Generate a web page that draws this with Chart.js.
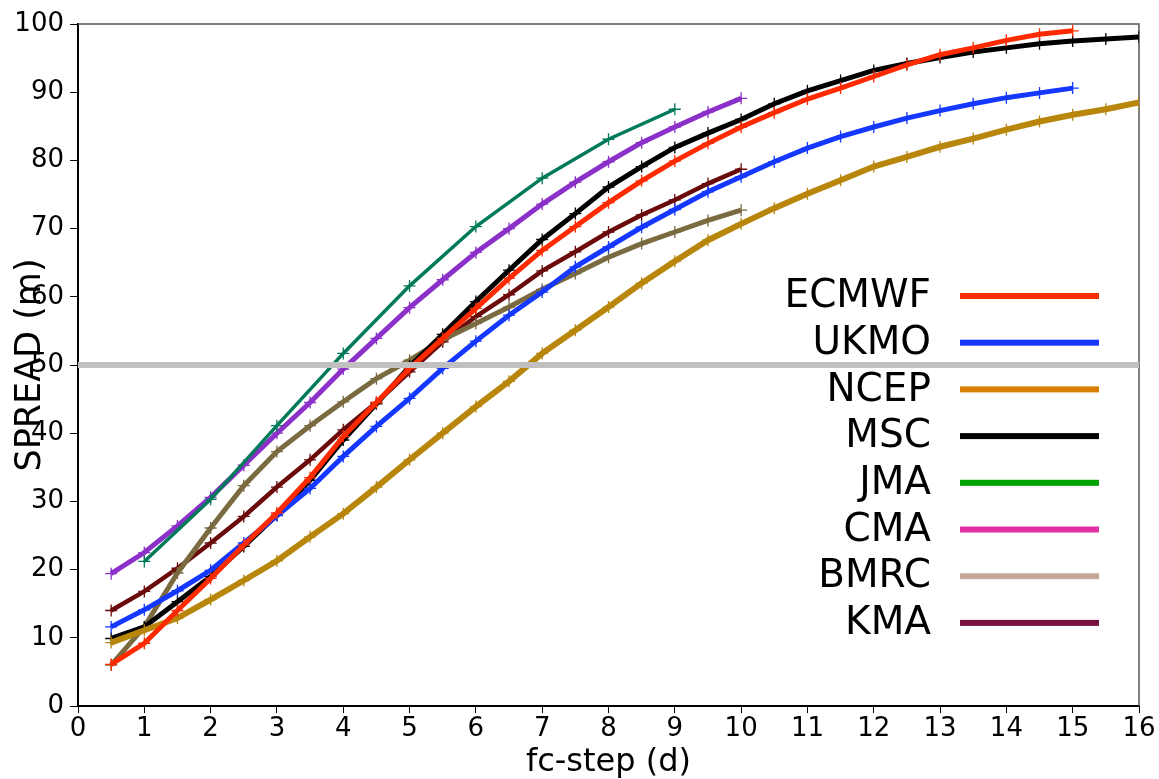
<!DOCTYPE html>
<html>
<head>
<meta charset="utf-8">
<title>SPREAD</title>
<script src="https://cdn.jsdelivr.net/npm/chart.js@4.4.1/dist/chart.umd.min.js"></script>
<style>
	html, body { margin: 0; padding: 0; background: #ffffff; }
	#spreadChart { display: block; }
</style>
</head>
<body>
<canvas id="spreadChart" width="1159" height="779"></canvas>
<script>
// forecast steps (days)
var fcSteps = [0.5, 1, 1.5, 2, 2.5, 3, 3.5, 4, 4.5, 5, 5.5, 6, 6.5, 7, 7.5, 8,
			   8.5, 9, 9.5, 10, 10.5, 11, 11.5, 12, 12.5, 13, 13.5, 14, 14.5, 15, 15.5, 16];
var jmaSteps = [1, 2, 3, 4, 5, 6, 7, 8, 9];

// spread values (m)
var ecmwf = [6.1, 9.2, 14.0, 18.7, 23.6, 28.3, 33.5, 39.5, 44.5, 49.5, 53.9, 58.3, 62.7, 66.8, 70.3, 73.8,
			 77.0, 79.9, 82.5, 84.9, 87.0, 89.0, 90.6, 92.3, 94.0, 95.5, 96.5, 97.6, 98.5, 99.0];
var ukmo  = [11.6, 14.1, 16.9, 19.9, 23.9, 27.9, 31.9, 36.6, 41.0, 45.1, 49.5, 53.5, 57.3, 60.7, 64.4, 67.3,
			 70.2, 72.8, 75.4, 77.6, 79.8, 81.8, 83.5, 84.9, 86.2, 87.3, 88.3, 89.2, 89.9, 90.6];
var ncep  = [9.3, 11.1, 12.9, 15.6, 18.4, 21.3, 24.8, 28.2, 32.1, 36.1, 40.0, 43.9, 47.6, 51.7, 55.1, 58.5,
			 62.0, 65.2, 68.3, 70.7, 73.0, 75.1, 77.1, 79.1, 80.5, 82.0, 83.2, 84.5, 85.7, 86.7, 87.5, 88.5];
var msc   = [9.9, 11.6, 15.3, 19.0, 23.4, 28.0, 33.1, 39.0, 44.3, 49.8, 54.5, 59.3, 63.9, 68.4, 72.2, 76.1,
			 79.1, 81.9, 84.0, 86.0, 88.3, 90.2, 91.7, 93.2, 94.2, 95.1, 95.9, 96.5, 97.1, 97.5, 97.8, 98.1];
var jma   = [21.2, 30.3, 41.1, 51.7, 61.6, 70.3, 77.4, 83.1, 87.5];
var cma   = [19.4, 22.5, 26.4, 30.6, 35.3, 40.0, 44.5, 49.4, 53.9, 58.4, 62.5, 66.5, 70.0, 73.6, 76.8, 79.8,
			 82.6, 84.9, 87.1, 89.1];
var bmrc  = [6.0, 11.6, 19.5, 26.1, 32.3, 37.3, 41.1, 44.6, 48.0, 50.7, 53.7, 56.1, 58.5, 61.1, 63.4, 65.8,
			 67.8, 69.5, 71.2, 72.7];
var kma   = [14.0, 16.8, 20.2, 23.9, 27.8, 32.1, 36.1, 40.5, 44.5, 49.0, 53.4, 57.1, 60.3, 63.8, 66.6, 69.5,
			 72.0, 74.2, 76.6, 78.7];

var refLevel = 50;

var centreNames  = ['ECMWF', 'UKMO', 'NCEP', 'MSC', 'JMA', 'CMA', 'BMRC', 'KMA'];
var lineColors   = ['#ff2a00', '#1438ff', '#b8860b', '#000000', '#007a5a', '#8b30c8', '#7a6a40', '#6a0a0a'];
var legendColors = ['#ff2a00', '#1438ff', '#d97e00', '#000000', '#00a000', '#e030a0', '#c4a89a', '#7a1040'];
var lineWidths   = [5, 5, 6, 5, 3.5, 5, 5, 4.5];

var seriesList = [ecmwf, ukmo, ncep, msc, jma, cma, bmrc, kma];

function toPoints(steps, values){
	var pts = [];
	for(var i = 0; i < values.length; i++){
		pts.push({x: steps[i], y: values[i]});
	}
	return pts;
}

var datasets = [];
for(var i = 0; i < centreNames.length; i++){
	var steps = (centreNames[i] == 'JMA') ? jmaSteps : fcSteps;
	datasets.push({
		label: centreNames[i],
		data: toPoints(steps, seriesList[i]),
		borderColor: lineColors[i],
		backgroundColor: lineColors[i],
		borderWidth: lineWidths[i],
		pointStyle: 'cross',
		pointRadius: 6,
		pointBorderWidth: 1.3,
		pointBorderColor: lineColors[i],
		tension: 0,
		fill: false,
		order: i + 1
	});
}

// 50 m reference line
datasets.push({
	label: 'ref',
	data: [{x: 0, y: refLevel}, {x: 16, y: refLevel}],
	borderColor: '#c0c0c0',
	borderWidth: 6,
	pointRadius: 0,
	fill: false,
	order: 0
});

var fontFamily = '"DejaVu Sans", "Liberation Sans", sans-serif';

//테두리, 축 제목, 범례
var decorPlugin = {
	id: 'decor',
	beforeDatasetsDraw: function(chart){
		var ctx = chart.ctx;
		var a = chart.chartArea;
		ctx.save();
		ctx.strokeStyle = '#555555';
		ctx.lineWidth = 1.5;
		ctx.beginPath();
		ctx.moveTo(a.left, a.top);
		ctx.lineTo(a.right, a.top);
		ctx.lineTo(a.right, a.bottom);
		ctx.stroke();
		ctx.restore();
	},
	afterDatasetsDraw: function(chart){
		var ctx = chart.ctx;
		var a = chart.chartArea;
		ctx.save();

		// legend
		ctx.font = '39px ' + fontFamily;
		ctx.textAlign = 'right';
		ctx.textBaseline = 'middle';
		for(var i = 0; i < centreNames.length; i++){
			var y = a.top + 272 + i * 46.7;
			ctx.fillStyle = '#000000';
			ctx.fillText(centreNames[i], a.right - 208, y + 1);
			ctx.fillStyle = legendColors[i];
			ctx.fillRect(a.right - 179, y - 3, 139, 6);
		}

		// y title
		ctx.fillStyle = '#000000';
		ctx.font = '35px ' + fontFamily;
		ctx.textAlign = 'center';
		ctx.textBaseline = 'middle';
		ctx.translate(31, (a.top + a.bottom) / 2);
		ctx.rotate(-Math.PI / 2);
		ctx.fillText('SPREAD (m)', 0, 0);
		ctx.restore();

		// x title
		ctx.save();
		ctx.fillStyle = '#000000';
		ctx.font = '32px ' + fontFamily;
		ctx.textAlign = 'center';
		ctx.textBaseline = 'middle';
		ctx.fillText('fc-step (d)', (a.left + a.right) / 2, 763);
		ctx.restore();
	}
};

var spreadChart = new Chart(document.getElementById('spreadChart').getContext('2d'), {
	type: 'line',
	data: { datasets: datasets },
	options: {
		responsive: false,
		animation: false,
		layout: { padding: { top: 24, right: 20, left: 0, bottom: 0 } },
		plugins: {
			legend: { display: false },
			tooltip: { enabled: false }
		},
		scales: {
			x: {
				type: 'linear',
				min: 0,
				max: 16,
				afterFit: function(s){ s.height = 73; },
				ticks: {
					stepSize: 1,
					color: '#000000',
					padding: 1,
					maxRotation: 0,
					font: { family: fontFamily, size: 26 }
				},
				grid: { drawOnChartArea: false, drawTicks: true, tickLength: 7, color: '#000000' },
				border: { display: true, color: '#000000', width: 2 }
			},
			y: {
				min: 0,
				max: 100,
				afterFit: function(s){ s.width = 78; },
				ticks: {
					stepSize: 10,
					color: '#000000',
					padding: 6,
					font: { family: fontFamily, size: 26 }
				},
				grid: { drawOnChartArea: false, drawTicks: true, tickLength: 8, color: '#000000' },
				border: { display: true, color: '#000000', width: 2 }
			}
		}
	},
	plugins: [decorPlugin]
});
</script>
</body>
</html>
